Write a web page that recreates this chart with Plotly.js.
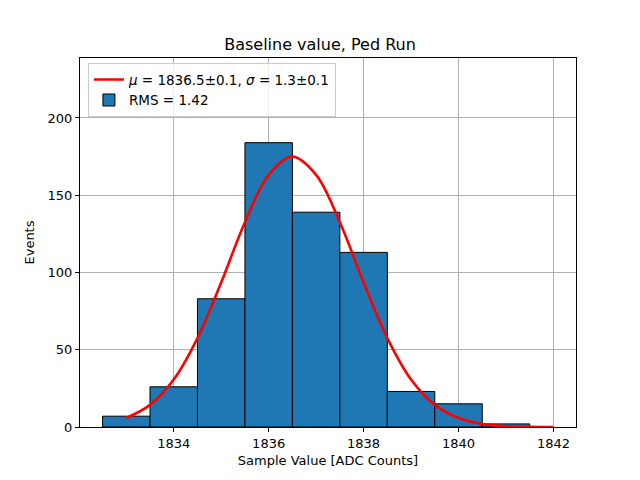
<!DOCTYPE html>
<html>
<head>
<meta charset="utf-8">
<script src="https://cdn.plot.ly/plotly-3.0.1.min.js"></script>
<style>html,body{margin:0;padding:0;background:#fff;}#chart{width:640px;height:480px;}</style>
</head>
<body>
<div id="chart"></div>
<script>
// Histogram bin centres and counts
const binCenters = [1833, 1834, 1835, 1836, 1837, 1838, 1839, 1840, 1841];
const binCounts  = [7, 26, 83, 184, 139, 113, 23, 15, 2];

// Fitted Gaussian curve
const fitX = [1833, 1833.5, 1834, 1834.5, 1835, 1835.5, 1836, 1836.5, 1837, 1837.5,
              1838, 1838.5, 1839, 1839.5, 1840, 1840.5, 1841, 1841.5, 1842];
const fitY = [5.8, 14.3, 30.7, 57.5, 93.5, 132.5, 163.2, 175, 163.2, 132.5,
              93.5, 57.5, 30.7, 14.3, 5.8, 2.0, 0.6, 0.2, 0.04];

const xTicks = [1834, 1836, 1838, 1840, 1842];
const yTicks = [0, 50, 100, 150, 200];

const fitLabel = "<i>μ</i> = 1836.5±0.1, <i>σ</i> = 1.3±0.1";
const histLabel = "RMS = 1.42";

const font = "DejaVu Sans, sans-serif";

const data = [
  {
    type: "bar",
    x: binCenters,
    y: binCounts,
    width: 1,
    name: histLabel,
    legendrank: 2,
    marker: {color: "#1f77b4", line: {color: "#000", width: 1}}
  },
  {
    type: "scatter",
    mode: "lines",
    x: fitX,
    y: fitY,
    name: fitLabel,
    legendrank: 1,
    line: {color: "#ff0000", width: 2.6, shape: "spline", smoothing: 1}
  }
];

const axisCommon = {
  showline: true, mirror: true, linecolor: "#000", linewidth: 1,
  ticks: "outside", ticklen: 4, tickcolor: "#000",
  showgrid: true, gridcolor: "#b0b0b0", gridwidth: 1,
  zeroline: false, layer: "above traces",
  tickfont: {family: font, size: 13, color: "#000"}
};

const layout = {
  width: 640, height: 480,
  margin: {l: 80, r: 64, t: 58, b: 53},
  paper_bgcolor: "#fff", plot_bgcolor: "#fff",
  font: {family: font, color: "#000"},
  bargap: 0,
  title: {text: "Baseline value, Ped Run", font: {family: font, size: 16, color: "#000"},
          x: 0.5, xanchor: "center", y: 0.908, yanchor: "middle"},
  xaxis: Object.assign({}, axisCommon, {
    range: [1832.025, 1842.475], tickvals: xTicks, ticktext: xTicks.map(String),
    title: {text: "Sample Value [ADC Counts]", font: {family: font, size: 13, color: "#000"}, standoff: 6}
  }),
  yaxis: Object.assign({}, axisCommon, {
    range: [0, 238.8], tickvals: yTicks, ticktext: yTicks.map(String),
    title: {text: "Events", font: {family: font, size: 13, color: "#000"}, standoff: 10}
  }),
  showlegend: true,
  legend: {
    x: 0.016, y: 0.986, xanchor: "left", yanchor: "top",
    bgcolor: "rgba(255,255,255,0.8)", bordercolor: "#cccccc", borderwidth: 1,
    font: {family: font, size: 13.5, color: "#000"},
    tracegroupgap: 0
  }
};

Plotly.newPlot("chart", data, layout, {displayModeBar: false, staticPlot: true});
</script>
</body>
</html>
